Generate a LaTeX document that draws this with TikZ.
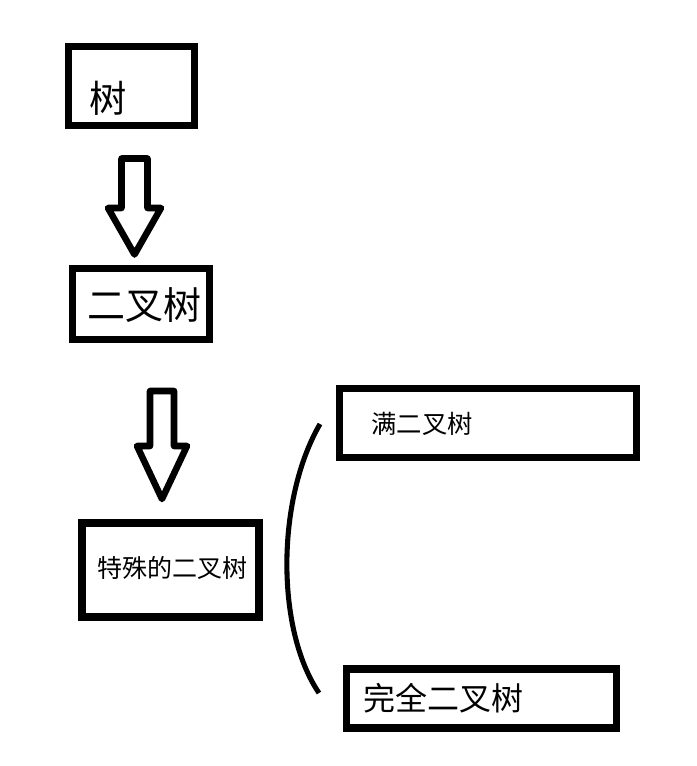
\documentclass[tikz,border=0pt]{standalone}
\usepackage{fontspec}
\newfontfamily\cjk{Noto Sans CJK SC}
\usetikzlibrary{calc}

\tikzset{
  treebox/.style={draw, line width=5.25pt, rectangle, inner sep=0pt},
  treetext/.style={inner sep=0pt, font=\cjk},
  hollowarrow/.style={draw, line width=4.9pt, line join=round},
  bracket/.style={draw, line width=3.8pt}
}

\begin{document}
\begin{tikzpicture}[x=0.75pt, y=-0.75pt]
\useasboundingbox (0,0) rectangle (696,766);

% boxes
\node[treebox, minimum width=94.5pt, minimum height=58.9pt] (shu) at (131.5,85.75) {};
\node[treebox, minimum width=103.1pt, minimum height=52.5pt] (ercha) at (140.75,304) {};
\node[treebox, line width=6pt, minimum width=132.75pt, minimum height=70.5pt] (teshu) at (170.5,570) {};
\node[treebox, minimum width=223.1pt, minimum height=51.75pt] (man) at (488.25,423) {};
\node[treebox, line width=5.6pt, minimum width=202.5pt, minimum height=44.25pt] (wanquan) at (481.5,698.5) {};

% texts
\node[treetext, font=\cjk\fontsize{28pt}{28pt}\selectfont] (shu-t) at (108,98) {树};
\node[treetext, font=\cjk\fontsize{28.5pt}{28.5pt}\selectfont] (ercha-t) at (144.5,305) {二叉树};
\node[treetext, font=\cjk\fontsize{18.75pt}{18.75pt}\selectfont] (teshu-t) at (172,568) {特殊的二叉树};
\node[treetext, font=\cjk\fontsize{19pt}{19pt}\selectfont] (man-t) at (422,424) {满二叉树};
\node[treetext, font=\cjk\fontsize{24pt}{24pt}\selectfont] (wanquan-t) at (443,698) {完全二叉树};

% block arrows
\coordinate (a1) at (134.5,158.5);
\draw[hollowarrow] ($(a1)+(-13,0)$) -- ($(a1)+(-13,49.5)$) -- ($(a1)+(-26.5,49.5)$)
  -- ($(a1)+(0,96)$) -- ($(a1)+(26.5,49.5)$) -- ($(a1)+(13,49.5)$) -- ($(a1)+(13,0)$) -- cycle;
\coordinate (a2) at (162,391);
\draw[hollowarrow] ($(a2)+(-12,0)$) -- ($(a2)+(-12,55)$) -- ($(a2)+(-25,55)$)
  -- ($(a2)+(0,108)$) -- ($(a2)+(25,55)$) -- ($(a2)+(12,55)$) -- ($(a2)+(12,0)$) -- cycle;

% bracket
\coordinate (bt) at (320,424);
\coordinate (bb) at (319,693);
\draw[bracket] (bt) .. controls (276,500) and (276,630) .. (bb);
\end{tikzpicture}
\end{document}
